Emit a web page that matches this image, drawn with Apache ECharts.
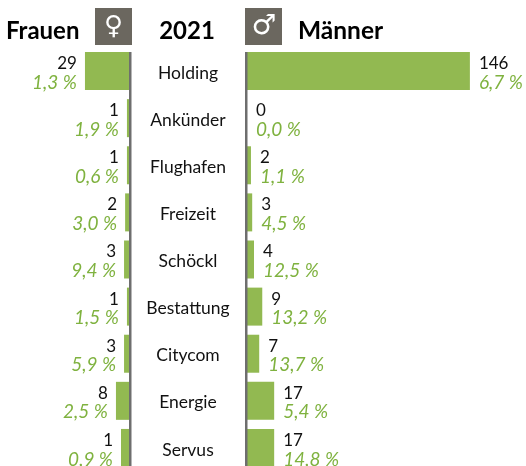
<!DOCTYPE html>
<html><head><meta charset="utf-8">
<style>html,body{margin:0;padding:0;background:#fff}#c{width:526px;height:466px}</style>
<script src="https://cdn.jsdelivr.net/npm/echarts@6/dist/echarts.min.js"></script>
</head><body><div id="c"></div>
<script>
const categories = ["Holding","Ankünder","Flughafen","Freizeit","Schöckl","Bestattung","Citycom","Energie","Servus"];
const womenValues = [29,1,1,2,3,1,3,8,1];
const womenBars = [29.5,2,2,3.2,3.9,2,3.9,9.2,5.9];
const womenPct = ["1,3 %","1,9 %","0,6 %","3,0 %","9,4 %","1,5 %","5,9 %","2,5 %","0,9 %"];
const menValues = [146,0,2,3,4,9,7,17,17];
const menBars = [146,0,2.6,3.4,4.6,10,8,17.8,17.8];
const menPct = ["6,7 %","0,0 %","1,1 %","4,5 %","12,5 %","13,2 %","13,7 %","5,4 %","14,8 %"];
const FONT = 'Lato';
const GREEN = '#92b951', PCT = '#7fb23f', GRAY = '#6b675f';
const SCALE_MAX = 150;
const rich = {
  n:{fontFamily:FONT,fontSize:17,color:'#111',lineHeight:19},
  p:{fontFamily:FONT,fontSize:19,fontStyle:'italic',color:PCT,lineHeight:19}
};
function barData(bars, vals, pcts){
  return bars.map((v,i)=>({value:v,label:{formatter:`{n|${vals[i]}}\n{p|${pcts[i]}}`}}));
}
const chart = echarts.init(document.getElementById('c'),null,{renderer:'canvas'});
const common = {type:'bar',barWidth:38,itemStyle:{color:GREEN},animation:false,silent:true};
chart.setOption({
  animation:false,
  backgroundColor:'#fff',
  grid:[
    {left:130-229,width:229,top:47.5,height:424,containLabel:false,outerBoundsMode:'none'},
    {left:247,width:229,top:47.5,height:424,containLabel:false,outerBoundsMode:'none'}
  ],
  xAxis:[
    {gridIndex:0,type:'value',inverse:true,min:0,max:SCALE_MAX,show:false},
    {gridIndex:1,type:'value',min:0,max:SCALE_MAX,show:false}
  ],
  yAxis:[
    {gridIndex:0,type:'category',position:'right',inverse:true,data:categories,
     axisLine:{show:false},axisTick:{show:false},
     axisLabel:{align:'center',margin:58,formatter:'{a|{value}}',
       rich:{a:{fontFamily:FONT,fontSize:17.5,color:'#111',padding:[4,0,0,0]}}}},
    {gridIndex:1,type:'category',position:'left',inverse:true,data:categories,
     axisLine:{show:false},axisTick:{show:false},axisLabel:{show:false}}
  ],
  series:[
    {...common,xAxisIndex:0,yAxisIndex:0,data:barData(womenBars,womenValues,womenPct),
     label:{show:true,position:'left',distance:8,align:'right',offset:[0,2],rich}},
    {...common,xAxisIndex:1,yAxisIndex:1,data:barData(menBars,menValues,menPct),
     label:{show:true,position:'right',distance:9,align:'left',offset:[0,2],rich}}
  ],
  graphic:[
    {type:'rect',z:10,shape:{x:129,y:52,width:2.5,height:414},style:{fill:'#6e6e6e'}},
    {type:'rect',z:10,shape:{x:245,y:52,width:2.5,height:414},style:{fill:'#6e6e6e'}},
    {type:'rect',shape:{x:95,y:8,width:37,height:37},style:{fill:GRAY}},
    {type:'rect',shape:{x:245,y:8,width:37,height:37},style:{fill:GRAY}},
    {type:'text',style:{x:113.5,y:27,text:'♀',font:'26px "DejaVu Sans"',fill:'#fff',align:'center',verticalAlign:'middle'}},
    {type:'text',style:{x:264,y:26.5,text:'♂',font:'28px "DejaVu Sans"',fill:'#fff',align:'center',verticalAlign:'middle'}},
    {type:'text',style:{x:6,y:31,text:'Frauen',font:'bold 24px Lato',fill:'#000',align:'left',verticalAlign:'middle'}},
    {type:'text',style:{x:187,y:31,text:'2021',font:'bold 24px Lato',fill:'#000',align:'center',verticalAlign:'middle'}},
    {type:'text',style:{x:298,y:31,text:'Männer',font:'bold 24.5px Lato',fill:'#000',align:'left',verticalAlign:'middle'}}
  ]
});
</script></body></html>
